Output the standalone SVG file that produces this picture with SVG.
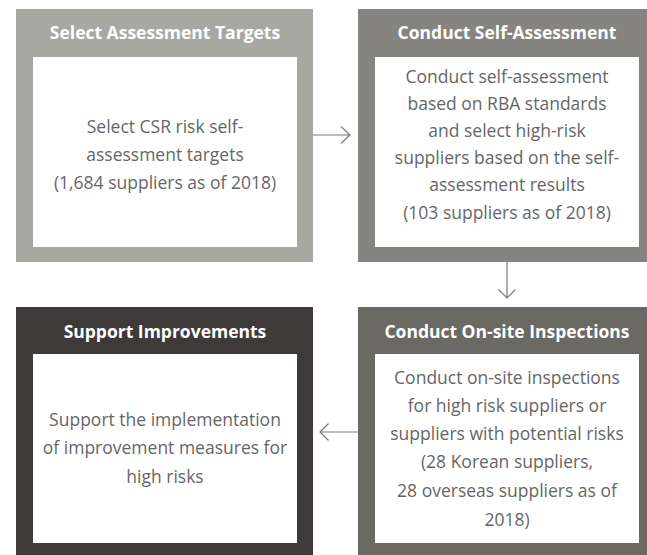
<svg xmlns="http://www.w3.org/2000/svg" width="647" height="555" viewBox="0 0 647 555">
<style>
.title{font-family:"Open Sans","Noto Sans",sans-serif;font-weight:bold;font-size:17.5px;fill:#ffffff;text-anchor:middle}
.body{font-family:"Open Sans","Noto Sans",sans-serif;font-size:17.5px;fill:#666666;text-anchor:middle}
.inner{fill:#ffffff}
.conn{stroke:#7a7a7a;stroke-width:1.2;fill:none}
</style>
<rect width="647" height="555" fill="#ffffff"/>
<g id="select-targets">
<rect x="16" y="9" width="297" height="253" fill="#a8a8a3"/>
<rect class="inner" x="33" y="57" width="264" height="190"/>
<text class="title" x="165" y="39">Select Assessment Targets</text>
<text class="body" x="165" y="133">Select CSR risk self-</text>
<text class="body" x="165" y="161">assessment targets</text>
<text class="body" x="165" y="189">(1,684 suppliers as of 2018)</text>
</g>
<g id="self-assessment">
<rect x="358" y="9" width="289" height="253" fill="#858480"/>
<rect class="inner" x="375" y="57" width="264" height="190"/>
<text class="title" x="507" y="39">Conduct Self-Assessment</text>
<text class="body" x="507" y="83">Conduct self-assessment</text>
<text class="body" x="507" y="110">based on RBA standards</text>
<text class="body" x="507" y="137">and select high-risk</text>
<text class="body" x="507" y="164">suppliers based on the self-</text>
<text class="body" x="507" y="191">assessment results</text>
<text class="body" x="507" y="219">(103 suppliers as of 2018)</text>
</g>
<g id="support-improvements">
<rect x="16" y="307" width="297" height="248" fill="#3e3a39"/>
<rect class="inner" x="33" y="354" width="264" height="189"/>
<text class="title" x="165" y="338">Support Improvements</text>
<text class="body" x="165" y="426">Support the implementation</text>
<text class="body" x="165" y="454">of improvement measures for</text>
<text class="body" x="165" y="483">high risks</text>
</g>
<g id="onsite-inspections">
<rect x="358" y="307" width="289" height="248" fill="#6b6964"/>
<rect class="inner" x="375" y="354" width="264" height="189"/>
<text class="title" x="507" y="338">Conduct On-site Inspections</text>
<text class="body" x="507" y="384">Conduct on-site inspections</text>
<text class="body" x="507" y="412">for high risk suppliers or</text>
<text class="body" x="507" y="440">suppliers with potential risks</text>
<text class="body" x="507" y="468">(28 Korean suppliers,</text>
<text class="body" x="507" y="497">28 overseas suppliers as of</text>
<text class="body" x="507" y="526">2018)</text>
</g>
<g id="connectors">
<path class="conn" d="M313 135H350M341 126.5L350 135L341 143.5"/>
<path class="conn" d="M507 262V298M498.5 289.5L507 298L515.5 289.5"/>
<path class="conn" d="M358 432H320M328.5 423.5L320 432L328.5 440.5"/>
</g>
</svg>
